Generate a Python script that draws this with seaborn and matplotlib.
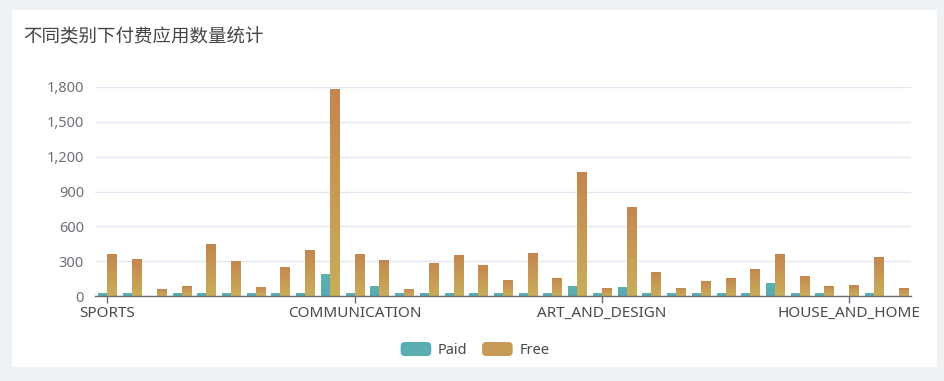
"""
Bieu do so luong ung dung tra phi / mien phi theo tung danh muc.
"""

import matplotlib
matplotlib.use("Agg")
import matplotlib.pyplot as plt
import numpy as np
import pandas as pd
import seaborn as sns
from matplotlib.colors import LinearSegmentedColormap
from matplotlib.legend_handler import HandlerPatch
from matplotlib.patches import FancyBboxPatch, Rectangle
from matplotlib.ticker import FuncFormatter

# Du lieu doc tu hinh
categories = [
    "SPORTS", "PRODUCTIVITY", "EVENTS", "AUTO_AND_VEHICLES", "BUSINESS",
    "ENTERTAINMENT", "COMICS", "TRAVEL_AND_LOCAL", "LIFESTYLE", "FAMILY",
    "COMMUNICATION", "PERSONALIZATION", "BEAUTY", "PHOTOGRAPHY", "FINANCE",
    "SOCIAL", "VIDEO_PLAYERS", "HEALTH_AND_FITNESS", "BOOKS_AND_REFERENCE", "GAME",
    "ART_AND_DESIGN", "TOOLS", "EDUCATION", "PARENTING", "MAPS_AND_NAVIGATION",
    "WEATHER", "SHOPPING", "MEDICAL", "DATING", "FOOD_AND_DRINK",
    "HOUSE_AND_HOME", "NEWS_AND_MAGAZINES", "LIBRARIES_AND_DEMO",
]
paid = [24, 23, 0, 22, 24, 22, 22, 24, 30, 191,
        27, 86, 22, 22, 22, 22, 22, 22, 22, 86,
        22, 80, 30, 22, 22, 22, 22, 109, 22, 22,
        0, 22, 0]
free = [366, 318, 60, 88, 451, 298, 80, 253, 400, 1780,
        366, 312, 62, 287, 355, 264, 139, 369, 159, 1065,
        65, 769, 210, 71, 133, 153, 233, 361, 176, 88,
        94, 332, 65]
series = ["Paid", "Free"]
shown_labels = ["SPORTS", "COMMUNICATION", "ART_AND_DESIGN", "HOUSE_AND_HOME"]
y_ticks = [0, 300, 600, 900, 1200, 1500, 1800]

# Mau gradient (duoi -> tren)
grad_colors = {
    "Paid": ("#58a6b6", "#5bb4ad"),
    "Free": ("#c9ae5a", "#c4864f"),
}
mid_colors = {"Paid": "#5aadb1", "Free": "#c79a55"}

n = len(categories)
df = pd.DataFrame({
    "category": categories * 2,
    "type": ["Paid"] * n + ["Free"] * n,
    "count": paid + free,
})

sns.set_theme(style="white")
plt.rcParams["font.family"] = ["Noto Sans CJK SC", "DejaVu Sans"]

fig = plt.figure(figsize=(9.45, 3.81), dpi=100, facecolor="#eef2f4")
fig.patches.append(Rectangle((12 / 945, 1 - 367 / 381), 925 / 945, 357 / 381,
                             transform=fig.transFigure, facecolor="white",
                             edgecolor="none", zorder=-10))

ax = fig.add_axes([95 / 945, 1 - 296 / 381, 816 / 945, 209 / 381])
ax.set_facecolor("white")

sns.barplot(data=df, x="category", y="count", hue="type", order=categories,
            hue_order=series, palette=mid_colors, width=0.73, gap=0,
            saturation=1, ax=ax, legend=True)

# To gradient cho tung cot
cmaps = {k: LinearSegmentedColormap.from_list(k, v) for k, v in grad_colors.items()}
grad = np.linspace(0, 1, 256).reshape(-1, 1)
bars = list(ax.patches)
for i, bar in enumerate(bars):
    h = bar.get_height()
    if h <= 0:
        continue
    key = series[i // n] if i < 2 * n else "Free"
    x0 = bar.get_x()
    x1 = x0 + bar.get_width()
    img = ax.imshow(grad, extent=[x0, x1, 0, h], origin="lower", aspect="auto",
                    cmap=cmaps[key], zorder=bar.get_zorder() + 0.1)
    img.set_clip_path(bar)

ax.set_xlim(-0.5, n - 0.5)
ax.set_ylim(0, 1800)
ax.set_xlabel("")
ax.set_ylabel("")

ax.set_yticks(y_ticks)
ax.yaxis.set_major_formatter(FuncFormatter(lambda v, p: f"{int(v):,}"))
ax.set_xticks([categories.index(c) for c in shown_labels])
ax.set_xticklabels(shown_labels, fontsize=11, color="#4a4a4a",
                   family=["Noto Sans", "DejaVu Sans"])
for lab in ax.get_yticklabels():
    lab.set_family(["Noto Sans", "DejaVu Sans"])
ax.tick_params(axis="y", left=False, length=0, pad=8, labelsize=10.5, labelcolor="#6e7079")
ax.tick_params(axis="x", bottom=True, length=5, width=1, color="#6e7079", pad=2,
               direction="out")

ax.yaxis.grid(True, color="#e0e6f1", linewidth=1)
ax.set_axisbelow(True)
for s in ["top", "right", "left"]:
    ax.spines[s].set_visible(False)
ax.spines["bottom"].set_color("#6e7079")
ax.spines["bottom"].set_linewidth(1)


# Legend voi o mau bo tron goc
class RoundHandler(HandlerPatch):
    def create_artists(self, legend, orig_handle, xdescent, ydescent, width, height,
                       fontsize, trans):
        p = FancyBboxPatch((-xdescent, -ydescent), width, height,
                           boxstyle="round,pad=0,rounding_size=3",
                           facecolor=orig_handle.get_facecolor(), edgecolor="none",
                           transform=trans)
        return [p]


handles, labels = ax.get_legend_handles_labels()
ax.legend(handles, labels, loc="center", bbox_to_anchor=(475 / 945, 1 - 350 / 381),
          bbox_transform=fig.transFigure, ncol=2, frameon=False,
          handler_map={h: RoundHandler() for h in handles},
          handlelength=2.1, handleheight=1.1, handletextpad=0.45,
          columnspacing=1.0, prop={"family": ["Noto Sans", "DejaVu Sans"], "size": 10.5},
          labelcolor="#4a4a4a")

fig.text(23 / 945, 1 - 37 / 381, "不同类别下付费应用数量统计", fontsize=13.3,
         color="#464646", va="center", ha="left")

fig.savefig("out.png", dpi=100, facecolor=fig.get_facecolor())
plt.close(fig)
